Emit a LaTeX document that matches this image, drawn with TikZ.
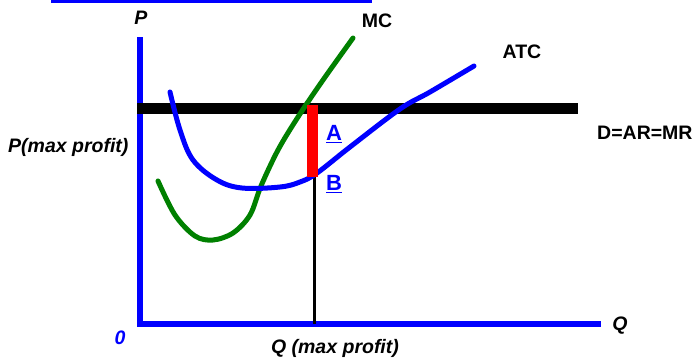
\documentclass[tikz,border=0pt]{standalone}
\usepackage{fontspec}
\setmainfont{Liberation Sans}
\definecolor{axblue}{RGB}{0,0,255}
\definecolor{mcgreen}{RGB}{0,128,0}
\begin{document}
\begin{tikzpicture}[x=1pt,y=-1pt,
  lbl/.style={font=\fontsize{19.5}{22}\selectfont\bfseries, text=black, inner sep=0pt},
  ilbl/.style={font=\fontsize{19.5}{22}\selectfont\bfseries\itshape, text=black, inner sep=0pt},
  ptlbl/.style={font=\fontsize{22}{25}\selectfont\bfseries, text=axblue, inner sep=0pt},
  axis/.style={draw=axblue, line width=6pt},
  curve/.style={line width=5pt, line cap=round, line join=round}]
\useasboundingbox (0,0) rectangle (694,360);
% top decorative line
\coordinate (t1) at (51,1.5);
\coordinate (t2) at (372,1.5);
\draw[axblue, line width=3pt] (t1) -- (t2);
% axes
\coordinate (o) at (140,324);
\coordinate (ytop) at (140,37);
\coordinate (xend) at (601,324);
\draw[axis] (ytop) -- (140,327);
\draw[axis] (137,324) -- (xend);
% demand line
\coordinate (d1) at (137,108.5);
\coordinate (d2) at (578,108.5);
\draw[black, line width=11pt] (d1) -- (d2);
% quantity line
\coordinate (q1) at (314,177);
\coordinate (q2) at (314,324);
\draw[black, line width=3pt] (q1) -- (q2);
% MC curve
\draw[mcgreen, curve] plot[smooth, tension=0.55] coordinates {
 (158,181) (175,215) (195,236) (213,240) (233,233) (250,215) (261,186)
 (278,150) (298,117) (323,80) (353,38)};
% ATC curve
\draw[axblue, curve] plot[smooth, tension=0.6] coordinates {
 (170,92) (180,130) (193,160) (217,180) (242,188) (280,187) (300,182)
 (317,173) (350,147) (400,109) (430,92) (474,66)};
% red profit bar
\fill[red] (307,105) rectangle (318,177);
% labels
\node[ilbl] (P) at (141,18) {P};
\node[lbl] (MC) at (377,21) {MC};
\node[lbl] (ATC) at (522,52) {ATC};
\node[lbl, anchor=west] (D) at (597,133) {D=AR=MR};
\node[ilbl, anchor=west] (Pmax) at (8,147) {P(max profit)};
\node[ptlbl, anchor=west] (A) at (326,134) {\underline{A}};
\node[ptlbl, anchor=west] (B) at (326,184) {\underline{B}};
\node[ilbl, text=axblue] (zero) at (120,338) {0};
\node[ilbl] (Q) at (620,326) {Q};
\node[ilbl] (Qmax) at (335,348) {Q (max profit)};
\end{tikzpicture}
\end{document}
